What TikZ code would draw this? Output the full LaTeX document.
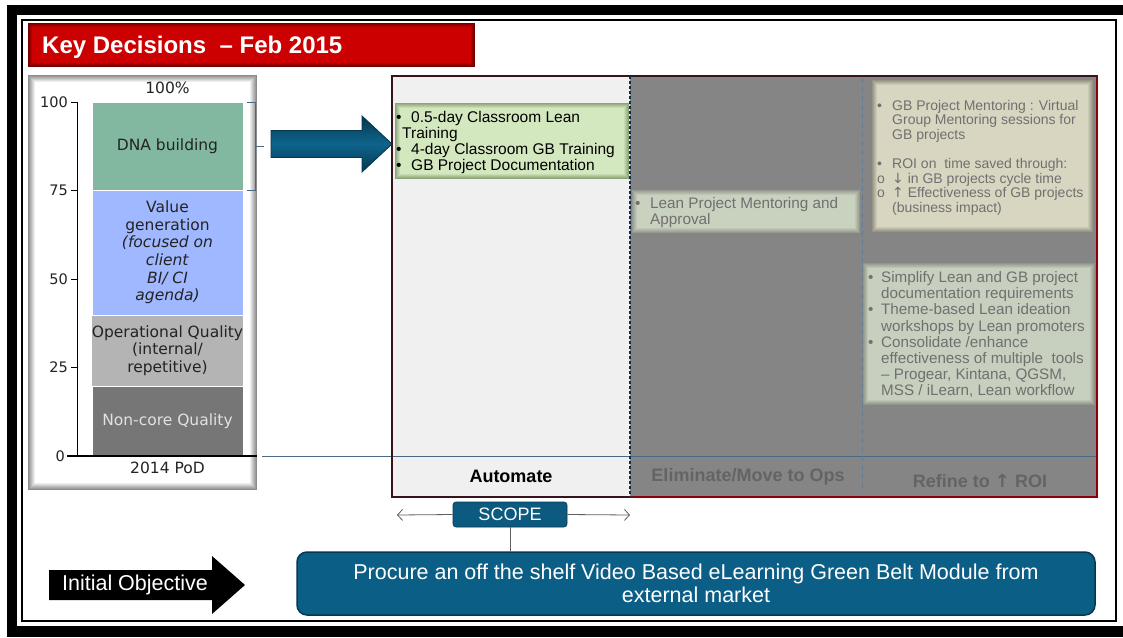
\documentclass[tikz,border=0pt]{standalone}
\usepackage{fontspec}
\setmainfont{Liberation Sans}
\newfontfamily\verd{DejaVu Sans}
\usetikzlibrary{arrows.meta}

\definecolor{titlered}{RGB}{204,0,0}
\definecolor{titleedge}{RGB}{110,0,0}
\definecolor{panelgray}{RGB}{140,140,140}
\definecolor{dnaC}{RGB}{130,184,160}
\definecolor{valC}{RGB}{160,184,255}
\definecolor{opqC}{RGB}{180,180,180}
\definecolor{ncC}{RGB}{118,118,118}
\definecolor{chartink}{RGB}{35,35,35}
\definecolor{nctext}{RGB}{225,225,225}
\definecolor{slate}{RGB}{75,105,130}
\definecolor{arrowmid}{RGB}{14,100,140}
\definecolor{arrowdark}{RGB}{6,55,80}
\definecolor{autoC}{RGB}{240,240,240}
\definecolor{colgray}{RGB}{133,133,133}
\definecolor{griddark}{RGB}{55,20,25}
\definecolor{gridred}{RGB}{140,0,10}
\definecolor{navydash}{RGB}{15,45,75}
\definecolor{dashblue}{RGB}{95,125,150}
\definecolor{greenfill}{RGB}{212,232,192}
\definecolor{greenedge}{RGB}{140,165,120}
\definecolor{leanfill}{RGB}{201,209,191}
\definecolor{leanedge}{RGB}{150,155,145}
\definecolor{beigefill}{RGB}{216,213,192}
\definecolor{beigeedge}{RGB}{150,148,132}
\definecolor{sagefill}{RGB}{199,207,190}
\definecolor{sageedge}{RGB}{145,150,140}
\definecolor{boxink}{RGB}{112,112,112}
\definecolor{hdrink}{RGB}{100,100,100}
\definecolor{scopeblue}{RGB}{12,90,128}
\definecolor{goalblue}{RGB}{11,94,134}
\definecolor{goaledge}{RGB}{6,55,80}
\definecolor{connink}{RGB}{95,95,95}

% rectangle whose rim fades from an edge colour into its fill colour
\newcommand\softrect[7]{%
  \foreach \k in {0,...,#7}{%
    \pgfmathtruncatemacro\pc{100*\k/#7}%
    \fill[#6!\pc!#5] ({#1+\k},{#2+\k}) rectangle ({#3-\k},{#4-\k});}}

\begin{document}
\begin{tikzpicture}[x=1pt,y=-1pt,
  seg/.style={draw=white,line width=0.8pt,minimum width=151pt,inner sep=0pt,align=center,
              font=\verd\fontsize{15.5}{17.6}\selectfont,text=chartink},
  ticklab/.style={anchor=east,inner sep=0pt,font=\verd\fontsize{14.5}{16}\selectfont,text=chartink},
  boxtxt/.style={anchor=base west,inner sep=0pt,align=left,text=boxink},
  hdr/.style={font=\bfseries\fontsize{18}{20}\selectfont,inner sep=0pt},
  scopearrow/.style={draw=connink,line width=0.8pt,-{Straight Barb[length=5pt,width=11pt]}}
]
\useasboundingbox (0,0) rectangle (1123,637);

% page frame
\fill[white] (0,0) rectangle (1123,637);
\fill[black] (7,5) rectangle (1123,637);
\fill[white] (17,15) rectangle (1123,626);
\draw[black,line width=2.5pt] (22,20) rectangle (1116,621);

% title bar
\softrect{28}{23}{475}{67}{titleedge}{titlered}{4}
\node[anchor=base west,inner sep=0pt,text=white,font=\bfseries\fontsize{24}{28}\selectfont]
  (title) at (42,53) {Key Decisions \ – Feb 2015};

% chart panel
\softrect{28}{75}{257}{490}{panelgray}{white}{7}

% stacked bar
\node[seg,fill=dnaC,minimum height=88pt] (dna) at (167.5,146) {DNA building};
\node[seg,fill=valC,minimum height=125pt] (val) at (167.5,252.5)
  {Value\\generation\\\textit{(focused on}\\\textit{client}\\\textit{BI/ CI}\\\textit{agenda)}};
\node[seg,fill=opqC,minimum height=71pt] (opq) at (167.5,350.5)
  {Operational Quality\\(internal/\\repetitive)};
\node[seg,fill=ncC,minimum height=70pt,text=nctext] (nc) at (167.5,421) {Non-core Quality};
\node[inner sep=0pt,font=\verd\fontsize{15.5}{17}\selectfont,text=chartink] (pct) at (167.5,88) {100\%};
\node[inner sep=0pt,font=\verd\fontsize{15.5}{17}\selectfont,text=chartink] (pod) at (167.5,468) {2014 PoD};

% axes
\draw[black,line width=1pt] (77,102) -- (77,456);
\foreach \v/\y in {100/102,75/190.5,50/279,25/367.5}{
  \draw[black,line width=1pt] (71,\y) -- (77,\y);
  \node[ticklab] (t\v) at (68,\y) {\v};
}
\draw[black,line width=1.2pt] (67,456) -- (257,456);
\node[ticklab] (t0) at (65,456) {0};

% bracket on the DNA block
\draw[slate,line width=0.8pt] (247,102) -- (255,102) -- (255,190) -- (247,190);
\draw[slate,line width=0.8pt] (255,146) -- (264,146);

% block arrow
\fill[top color=arrowdark,bottom color=arrowdark,middle color=arrowmid,draw=arrowdark,line width=0.8pt]
  (271,130.5) -- (362,130.5) -- (362,116) -- (392,144) -- (362,172) -- (362,157.5) -- (271,157.5) -- cycle;

% decision grid
\fill[autoC] (392,76) rectangle (630,497);
\fill[colgray] (630,76) rectangle (1097,497);
\draw[slate,line width=1pt] (262,456) -- (1097,456);
\draw[gridred,line width=1.5pt] (630,76) -- (1097,76) -- (1097,497) -- (630,497);
\draw[griddark,line width=2pt] (1097,76) -- (392,76) -- (392,497) -- (630,497);
\draw[navydash,line width=2pt,dash pattern=on 3pt off 2pt] (630,76) -- (630,497);
\draw[dashblue,line width=0.8pt,dash pattern=on 5pt off 4pt] (862,78) -- (862,488);

% Automate column (node base = baseline of the last line)
\softrect{395}{103}{629}{179}{greenedge}{greenfill}{5}
\node[boxtxt,text=black,font=\fontsize{15.5}{16.3}\selectfont] (autolist) at (396,170.9)
  {\makebox[15pt][l]{•}0.5-day Classroom Lean\\
   \hspace*{6pt}Training\\
   \makebox[15pt][l]{•}4-day Classroom GB Training\\
   \makebox[15pt][l]{•}GB Project Documentation};

% Eliminate column
\softrect{632}{190}{860}{233}{leanedge}{leanfill}{5}
\node[boxtxt,font=\fontsize{15.3}{16}\selectfont] (leanlist) at (635,224.5)
  {\makebox[15pt][l]{•}Lean Project Mentoring and\\
   \hspace*{15pt}Approval};

% Refine column
\softrect{872}{80}{1093}{232}{beigeedge}{beigefill}{5}
\node[boxtxt,font=\fontsize{14}{14.6}\selectfont] (mentor) at (877,212.2)
  {\makebox[15pt][l]{•}GB Project Mentoring : Virtual\\
   \hspace*{15pt}Group Mentoring sessions for\\
   \hspace*{15pt}GB projects\\[14.6pt]
   \makebox[15pt][l]{•}ROI on \ time saved through:\\
   \makebox[15pt][l]{o}{\verd↓} in GB projects cycle time\\
   \makebox[15pt][l]{o}{\verd↑} Effectiveness of GB projects\\
   \hspace*{15pt}(business impact)};

\softrect{863}{263}{1095}{405}{sageedge}{sagefill}{5}
\node[boxtxt,font=\fontsize{15.2}{16.2}\selectfont] (simplify) at (868,395.9)
  {\makebox[13pt][l]{•}Simplify Lean and GB project\\
   \hspace*{13pt}documentation requirements\\
   \makebox[13pt][l]{•}Theme-based Lean ideation\\
   \hspace*{13pt}workshops by Lean promoters\\
   \makebox[13pt][l]{•}Consolidate /enhance\\
   \hspace*{13pt}effectiveness of multiple \ tools\\
   \hspace*{13pt}– Progear, Kintana, QGSM,\\
   \hspace*{13pt}MSS / iLearn, Lean workflow};

% column headers
\node[hdr,text=black] (hauto) at (511,476) {Automate};
\node[hdr,text=hdrink] (helim) at (748,477) {Eliminate/Move to Ops};
\node[hdr,text=hdrink] (hrefine) at (980,481) {Refine to {\verd↑} ROI};

% scope marker
\node[fill=scopeblue,draw=goaledge,line width=0.6pt,rounded corners=3pt,minimum width=114pt,
      minimum height=25pt,inner sep=0pt,text=white,font=\fontsize{18}{20}\selectfont]
  (scopebox) at (510,514.5) {SCOPE};
\coordinate (scopeL) at (397,515);
\coordinate (scopeR) at (630,515);
\draw[scopearrow] (scopebox.west) -- (scopeL);
\draw[scopearrow] (scopebox.east) -- (scopeR);

% objective
\node[fill=goalblue,draw=goaledge,line width=1.5pt,rounded corners=10pt,minimum width=798pt,
      minimum height=63pt,inner sep=0pt,align=center,text=white,font=\fontsize{21.5}{23}\selectfont]
  (goal) at (696,583.5)
  {Procure an off the shelf Video Based eLearning Green Belt Module from\\external market};
\draw[connink,line width=0.8pt] (scopebox.south) -- (scopebox.south |- goal.north);

\fill[black] (49,570) -- (212,570) -- (212,556) -- (245,585) -- (212,614) -- (212,600) -- (49,600) -- cycle;
\node[inner sep=0pt,text=white,font=\fontsize{21.5}{24}\selectfont] (objective) at (135,585) {Initial Objective};
\end{tikzpicture}
\end{document}
